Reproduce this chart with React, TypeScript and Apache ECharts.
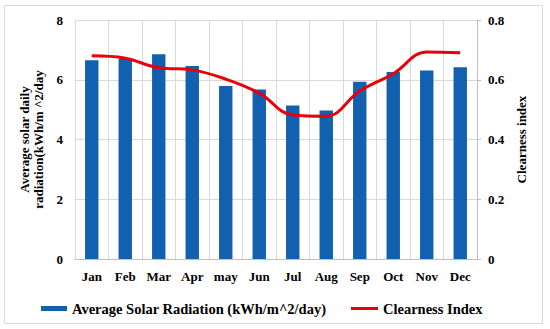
import React, { useEffect, useRef } from "react";
import * as echarts from "echarts";

const months = ["Jan", "Feb", "Mar", "Apr", "may", "Jun", "Jul", "Aug", "Sep", "Oct", "Nov", "Dec"];
const solarRadiation = [6.65, 6.7, 6.85, 6.46, 5.79, 5.67, 5.14, 4.97, 5.93, 6.26, 6.31, 6.42];
const clearnessIndex = [0.68, 0.672, 0.64, 0.633, 0.602, 0.555, 0.482, 0.478, 0.562, 0.62, 0.693, 0.69];
const leftTicks = [0, 2, 4, 6, 8];
const rightTicks = [0, 0.2, 0.4, 0.6, 0.8];
const barName = "Average Solar Radiation (kWh/m^2/day)";
const lineName = "Clearness Index";

const FONT = "Liberation Serif";

export default function App() {
  const ref = useRef<HTMLDivElement>(null);
  useEffect(() => {
    if (!ref.current) return;
    const chart = echarts.init(ref.current, undefined, { renderer: "svg" });
    const legendText = { fontFamily: FONT, fontWeight: "bold", fontSize: 14.5, color: "#000" };
    chart.setOption({
      animation: false,
      backgroundColor: "#ffffff",
      textStyle: { fontFamily: FONT },
      graphic: [
        {
          type: "rect",
          shape: { x: 4.5, y: 5.5, width: 538, height: 318 },
          style: { fill: "none", stroke: "#d9d9d9", lineWidth: 1 },
          z: -1,
        },
      ],
      grid: { left: 75, right: 73, top: 20, bottom: 70, containLabel: false },
      legend: [
        {
          left: 41,
          top: 301,
          padding: 0,
          itemWidth: 26,
          itemHeight: 5,
          itemGap: 3,
          textStyle: legendText,
          data: [{ name: barName, icon: "rect" }],
        },
        {
          left: 351,
          top: 301,
          padding: 0,
          itemWidth: 27,
          itemHeight: 3,
          itemGap: 3,
          textStyle: legendText,
          data: [{ name: lineName, icon: "rect" }],
        },
      ],
      xAxis: {
        type: "category",
        data: months,
        axisLine: { show: true, lineStyle: { color: "#bfbfbf", width: 1 } },
        axisTick: { show: false },
        splitLine: { show: true, interval: 0, lineStyle: { color: "#d9d9d9", width: 1 } },
        axisLabel: { fontFamily: FONT, fontWeight: "bold", fontSize: 13, color: "#000", margin: 11, interval: 0 },
      },
      yAxis: [
        {
          type: "value",
          min: leftTicks[0],
          max: leftTicks[leftTicks.length - 1],
          interval: 2,
          name: "Average solar daily\nradiation(kWh/m ^2/day",
          nameLocation: "middle",
          nameGap: 21,
          nameRotate: 90,
          nameTextStyle: { fontFamily: FONT, fontWeight: "bold", fontSize: 13, color: "#000", lineHeight: 14 },
          axisLine: { show: false },
          axisTick: { show: false },
          splitLine: { show: true, lineStyle: { color: "#d9d9d9", width: 1 } },
          axisLabel: { fontFamily: FONT, fontWeight: "bold", fontSize: 13, color: "#000", margin: 12 },
        },
        {
          type: "value",
          min: rightTicks[0],
          max: rightTicks[rightTicks.length - 1],
          interval: 0.2,
          position: "right",
          name: "Clearness index",
          nameLocation: "middle",
          nameGap: 37,
          nameRotate: 90,
          nameTextStyle: { fontFamily: FONT, fontWeight: "bold", fontSize: 13, color: "#000" },
          axisLine: { show: true, lineStyle: { color: "#bfbfbf", width: 1 } },
          axisTick: { show: true, length: 4, lineStyle: { color: "#bfbfbf" } },
          splitLine: { show: false },
          axisLabel: {
            fontFamily: FONT,
            fontWeight: "bold",
            fontSize: 13,
            color: "#000",
            margin: 11,
            formatter: (v: number) => (v === 0 ? "0" : v.toFixed(1)),
          },
        },
      ],
      series: [
        {
          name: barName,
          type: "bar",
          data: solarRadiation,
          barWidth: "40%",
          yAxisIndex: 0,
          itemStyle: { color: "#1260b0" },
        },
        {
          name: lineName,
          type: "line",
          data: clearnessIndex,
          yAxisIndex: 1,
          smooth: 0.4,
          symbol: "none",
          lineStyle: { color: "#e8000b", width: 3 },
          itemStyle: { color: "#e8000b" },
        },
      ],
    });
    return () => chart.dispose();
  }, []);
  return <div ref={ref} style={{ position: "fixed", left: 0, top: 0, width: 550, height: 329 }} />;
}
